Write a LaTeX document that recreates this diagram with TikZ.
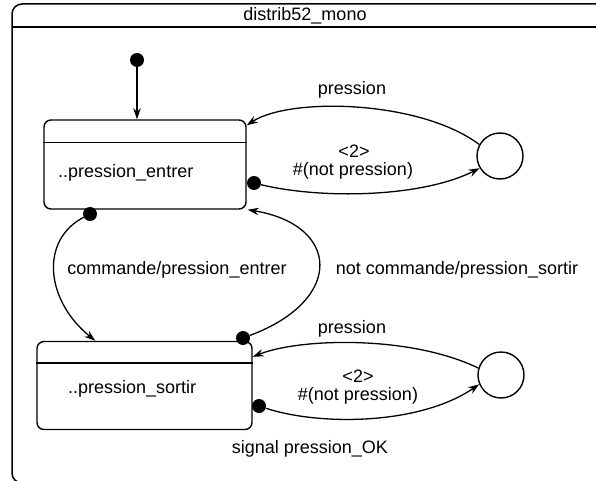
\documentclass[tikz,border=0pt]{standalone}
\usepackage{fontspec}
\setmainfont{Liberation Sans}
\usepackage{tikz}
\usetikzlibrary{arrows.meta,positioning}

\begin{document}
\begin{tikzpicture}[
    x=1pt, y=-1pt,
    font=\fontsize{18}{21}\selectfont,
    >=Stealth,
    % Styles
    state/.style={rectangle, draw=black, line width=1.4pt, rounded corners=7pt, inner sep=0pt},
    junction/.style={circle, draw=black, line width=1.4pt, minimum size=46pt, inner sep=0pt},
    dot/.style={circle, fill=black, minimum size=14pt, inner sep=0pt},
    initdot/.style={circle, fill=black, minimum size=14pt, inner sep=0pt},
    arrow/.style={-{Stealth[length=11pt,width=7.5pt]}, line width=1.3pt, draw=black},
    txt/.style={inner sep=1pt}
]
\useasboundingbox (0,0) rectangle (596,481);
\clip (0,0) rectangle (596,481);

% --- Frame ---
\draw[line width=1.5pt, rounded corners=10pt] (12,4) rectangle (630,483);
\draw[line width=1.5pt] (12,27) -- (630,27);
\node[txt] (title) at (305,16) {distrib52\_mono};

% --- States ---
\node[state, minimum width=202pt, minimum height=89pt] (entrer) at (145,164.5) {};
\draw[line width=1.4pt] ([yshift=-23pt]entrer.north west) -- ([yshift=-23pt]entrer.north east);
\node[txt, anchor=west] (entrer_txt) at (57,173) {..pression\_entrer};

\node[state, minimum width=215pt, minimum height=88pt] (sortir) at (144.5,385.5) {};
\draw[line width=1.4pt] ([yshift=-22pt]sortir.north west) -- ([yshift=-22pt]sortir.north east);
\node[txt, anchor=west] (sortir_txt) at (67,389) {..pression\_sortir};

% --- Junctions ---
\node[junction] (junc_a) at (500,156) {};
\node[junction] (junc_b) at (501,375) {};

% --- Dots ---
\node[initdot] (init) at (137,60) {};
\node[dot] (d_entrer_r) at (254,183) {};
\node[dot] (d_entrer_b) at (90,214) {};
\node[dot] (d_sortir_t) at (243,338) {};
\node[dot] (d_sortir_r) at (259,406) {};

% --- Connections ---
\draw[arrow] (init) -- (init |- entrer.north);

% Loop of entrer
\draw[arrow] (junc_a.151) .. controls (420,100) and (290,97) .. ([yshift=-6pt]entrer.north east);
\node[txt] (lab_p1) at (352,90) {pression};
\draw[arrow] (d_entrer_r) .. controls (320,199) and (420,198) .. (junc_a.211);
\node[txt] (lab_n1a) at (354,151) {<2>};
\node[txt] (lab_n1b) at (353,171) {\#(not pression)};

% Between states
\draw[arrow] (d_entrer_b) .. controls (40,240) and (45,300) .. ([xshift=59pt]sortir.north west);
\node[txt] (lab_cmd) at (177,270) {commande/pression\_entrer};
\draw[arrow] (d_sortir_t) .. controls (345,300) and (340,225) .. ([xshift=1pt]entrer.south east);
\node[txt] (lab_ncmd) at (457,270) {not commande/pression\_sortir};

% Loop of sortir
\draw[arrow] (junc_b.163) .. controls (410,335) and (300,338) .. ([yshift=-16pt]sortir.north east);
\node[txt] (lab_p2) at (352,329) {pression};
\draw[arrow] (d_sortir_r) .. controls (320,426) and (420,425) .. (junc_b.203);
\node[txt] (lab_n2a) at (358,376) {<2>};
\node[txt] (lab_n2b) at (358,396) {\#(not pression)};

\node[txt] (signal) at (310,449) {signal pression\_OK};

\end{tikzpicture}
\end{document}
